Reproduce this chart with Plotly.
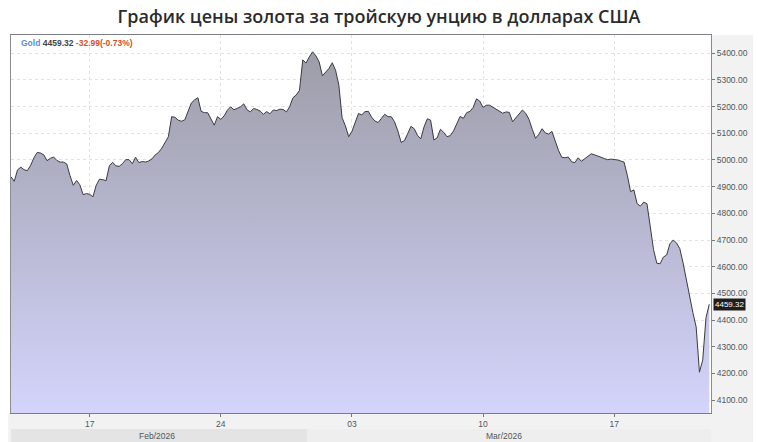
import pandas as pd
import plotly.graph_objects as go

# ==========================================
# Data (3-hour bars, trading days only)
# ==========================================
START = "2026-02-12"
PRICES = [
    4937, 4920, 4963, 4973, 4963, 4960, 4980, 5008, 5028, 5026,
    5019, 4997, 5006, 5011, 4998, 4992, 4992, 4985, 4941, 4905,
    4923, 4907, 4870, 4874, 4871, 4862, 4905, 4928, 4926, 4922,
    4978, 4991, 4978, 4976, 4986, 5001, 5001, 4986, 5010, 4990,
    4994, 4992, 4996, 5004, 5019, 5028, 5044, 5064, 5087, 5162,
    5160, 5149, 5145, 5150, 5180, 5213, 5225, 5233, 5182, 5177,
    5177, 5152, 5130, 5162, 5152, 5165, 5186, 5199, 5188, 5193,
    5199, 5210, 5188, 5180, 5193, 5189, 5183, 5171, 5181, 5173,
    5187, 5185, 5190, 5189, 5180, 5199, 5233, 5243, 5261, 5375,
    5363, 5386, 5405, 5390, 5367, 5315, 5329, 5343, 5364, 5336,
    5281, 5158, 5128, 5087, 5107, 5143, 5174, 5169, 5181, 5182,
    5160, 5146, 5140, 5156, 5171, 5162, 5162, 5143, 5109, 5066,
    5072, 5098, 5126, 5117, 5092, 5079, 5124, 5154, 5149, 5075,
    5083, 5115, 5103, 5087, 5091, 5109, 5139, 5163, 5156, 5177,
    5182, 5197, 5229, 5220, 5197, 5205, 5205, 5197, 5190, 5181,
    5175, 5180, 5178, 5143, 5158, 5171, 5187, 5175, 5152, 5115,
    5081, 5096, 5117, 5101, 5097, 5107, 5068, 5036, 5010, 5008,
    5011, 4993, 4990, 5008, 4995, 5004, 5012, 5023, 5019, 5013,
    5010, 5005, 5001, 5003, 5002, 5000, 4996, 4992, 4943, 4881,
    4888, 4836, 4827, 4842, 4836, 4746, 4664, 4613, 4611, 4636,
    4644, 4686, 4700, 4689, 4668, 4615, 4550, 4494, 4428, 4374,
    4205, 4250, 4409, 4459.32,
]
CHANGE = -32.99
CHANGE_PCT = -0.73

TICK_DATES = ["2026-02-17", "2026-02-24", "2026-03-03", "2026-03-10", "2026-03-17"]
TICK_LABELS = ["17", "24", "03", "10", "17"]
MONTHS = ["Feb/2026", "Mar/2026"]
MONTH_SPLIT = "2026-02-27 07:00"

TITLE = "График цены золота за тройскую унцию в долларах США"

# ==========================================
# time axis: 3h steps, weekends skipped
times = pd.date_range(START, "2026-03-21", freq="3h")
times = times[times.dayofweek < 5][:len(PRICES)]

X_RANGE = [START, "2026-03-20 16:35"]
Y_RANGE = [4052, 5468]

fig = go.Figure()

fig.add_trace(go.Scatter(
    x=times, y=PRICES, mode="lines",
    line=dict(color="#3a3a42", width=1),
    fill="tozeroy",
    fillgradient=dict(
        type="vertical",
        colorscale=[[0, "rgb(212,212,252)"], [1, "rgb(154,154,164)"]],
        start=Y_RANGE[0], stop=Y_RANGE[1],
    ),
    hoverinfo="x+y", showlegend=False,
))

# grey frame areas (axis label strips + month band)
grey = "#f2f2f2"
shapes = [
    dict(type="rect", xref="paper", yref="paper", x0=1, x1=1.06, y0=-0.08, y1=1,
         fillcolor=grey, line_width=0, layer="below"),
    dict(type="rect", xref="paper", yref="paper", x0=-0.004, x1=1.06, y0=-0.08, y1=0,
         fillcolor=grey, line_width=0, layer="below"),
    dict(type="rect", xref="paper", yref="paper", x0=0, x1=1.0, y0=-0.08, y1=-0.0423,
         fillcolor="#eeeeee", line_width=0, layer="below"),
    dict(type="rect", xref="x", yref="paper", x0=X_RANGE[0], x1=MONTH_SPLIT, y0=-0.08, y1=-0.0423,
         fillcolor="#e4e4e4", line_width=0, layer="below"),
]

ann_font = dict(family="Liberation Sans, Arial", size=8.5, color="#555555")
annotations = [
    dict(xref="paper", yref="paper", x=0.208, y=-0.06, text=MONTHS[0], showarrow=False,
         font=ann_font, xanchor="center", yanchor="middle"),
    dict(xref="paper", yref="paper", x=0.704, y=-0.06, text=MONTHS[1], showarrow=False,
         font=ann_font, xanchor="center", yanchor="middle"),
    dict(xref="paper", yref="paper", x=0.011, y=0.979, xanchor="left", yanchor="middle",
         showarrow=False,
         font=dict(family="Liberation Sans, Arial", size=8.5),
         text=(f"<b><span style='color:#5b8fd0'>Gold</span> "
               f"<span style='color:#444'>{PRICES[-1]:.2f}</span> "
               f"<span style='color:#d0502e'>{CHANGE:.2f}({CHANGE_PCT:.2f}%)</span></b>")),
    dict(xref="paper", yref="y", x=1.003, y=PRICES[-1], xanchor="left", yanchor="middle",
         showarrow=False, text=f"{PRICES[-1]:.2f}", bgcolor="#1e1e1e", borderpad=1,
         font=dict(family="Liberation Sans, Arial", size=8, color="white")),
]

fig.update_layout(
    width=758, height=442,
    margin=dict(l=10, r=38, t=35, b=29),
    paper_bgcolor="white", plot_bgcolor="white",
    title=dict(text=TITLE, x=0.5, xref="container", xanchor="center",
               y=1 - 17 / 442, yref="container", yanchor="middle",
               font=dict(family="Open Sans", size=18, color="#2b2b2b", weight=600)),
    shapes=shapes, annotations=annotations,
    hovermode="x unified",
)

fig.update_xaxes(
    type="date", range=X_RANGE,
    rangebreaks=[dict(bounds=["sat", "mon"])],
    tickmode="array", tickvals=TICK_DATES, ticktext=TICK_LABELS,
    ticks="outside", ticklen=3, tickcolor="#777",
    tickfont=ann_font,
    showgrid=True, gridcolor="#e2e2e2", griddash="3px,3px", gridwidth=1,
    showline=True, linecolor="#7d7d8a", linewidth=1, mirror=True,
    zeroline=False,
)
fig.update_yaxes(
    side="right", range=Y_RANGE, dtick=100, tick0=4100, tickformat=".2f",
    ticks="outside", ticklen=3, tickcolor="#777",
    tickfont=dict(family="Liberation Sans, Arial", size=8.5, color="#555555"),
    showgrid=True, gridcolor="#e2e2e2", griddash="3px,3px", gridwidth=1,
    showline=True, linecolor="#8c8c8c", linewidth=1, mirror=True,
    zeroline=False,
)

# body margin of the page would shift the figure by 8px
fig.write_html("out.html", config={"displayModeBar": False},
               post_script="document.body.style.margin='0';")
